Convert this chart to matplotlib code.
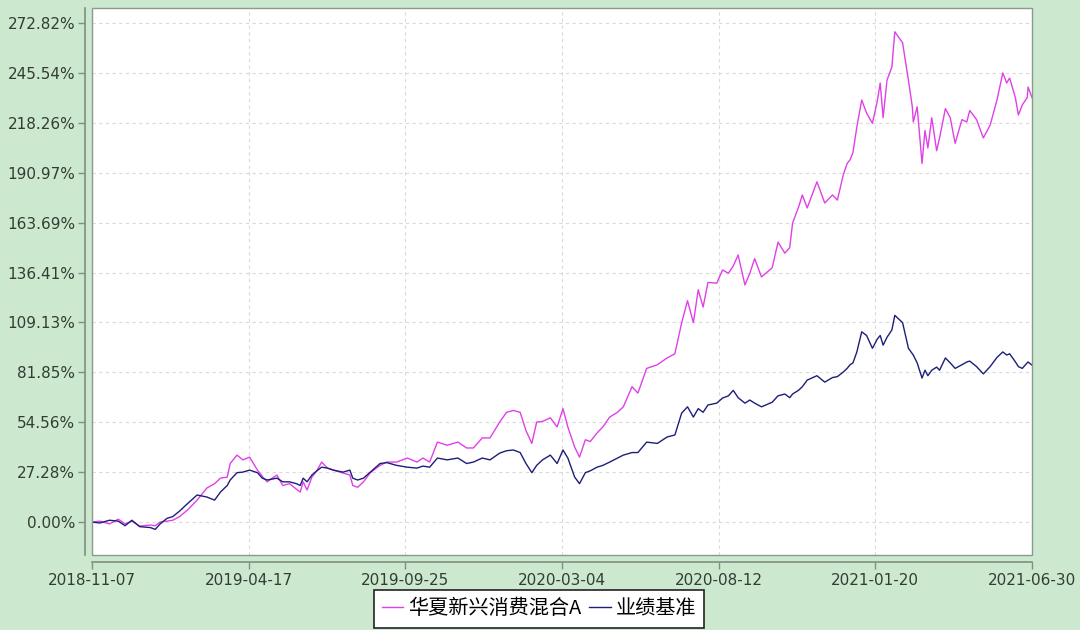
import matplotlib
matplotlib.use("Agg")
import matplotlib.pyplot as plt
import matplotlib.dates as mdates
from matplotlib.patches import Rectangle
import pandas as pd

dates = [
    "2018-11-07", "2018-11-15", "2018-11-25", "2018-12-04", "2018-12-11", "2018-12-18", "2018-12-26",
    "2019-01-06", "2019-01-11", "2019-01-16", "2019-01-23", "2019-01-29", "2019-02-05", "2019-02-13",
    "2019-02-23", "2019-03-05", "2019-03-13", "2019-03-19", "2019-03-26", "2019-03-29", "2019-04-05",
    "2019-04-11", "2019-04-18", "2019-04-26", "2019-05-01", "2019-05-06", "2019-05-16", "2019-05-22",
    "2019-05-29", "2019-06-05", "2019-06-09", "2019-06-12", "2019-06-16", "2019-06-21", "2019-06-26",
    "2019-07-01", "2019-07-07", "2019-07-13", "2019-07-23", "2019-07-30", "2019-08-02", "2019-08-07",
    "2019-08-13", "2019-08-20", "2019-08-30", "2019-09-06", "2019-09-16", "2019-09-27", "2019-10-07",
    "2019-10-13", "2019-10-20", "2019-10-28", "2019-11-07", "2019-11-18", "2019-11-27", "2019-12-04",
    "2019-12-13", "2019-12-21", "2019-12-31", "2020-01-07", "2020-01-14", "2020-01-21", "2020-01-27",
    "2020-02-02", "2020-02-07", "2020-02-13", "2020-02-21", "2020-02-28", "2020-03-05", "2020-03-10",
    "2020-03-17", "2020-03-22", "2020-03-28", "2020-04-02", "2020-04-09", "2020-04-15", "2020-04-22",
    "2020-04-30", "2020-05-06", "2020-05-15", "2020-05-21", "2020-05-30", "2020-06-10", "2020-06-20",
    "2020-06-28", "2020-07-05", "2020-07-11", "2020-07-17", "2020-07-22", "2020-07-27", "2020-08-01",
    "2020-08-10", "2020-08-16", "2020-08-22", "2020-08-27", "2020-09-01", "2020-09-08", "2020-09-13",
    "2020-09-18", "2020-09-25", "2020-10-06", "2020-10-12", "2020-10-19", "2020-10-24", "2020-10-27",
    "2020-11-02", "2020-11-06", "2020-11-11", "2020-11-21", "2020-11-29", "2020-12-07", "2020-12-12",
    "2020-12-18", "2020-12-22", "2020-12-25", "2020-12-28", "2021-01-01", "2021-01-06", "2021-01-11",
    "2021-01-17", "2021-01-22", "2021-01-25", "2021-01-28", "2021-02-01", "2021-02-06", "2021-02-09",
    "2021-02-17", "2021-02-23", "2021-02-27", "2021-02-28", "2021-03-04", "2021-03-09", "2021-03-12",
    "2021-03-15", "2021-03-19", "2021-03-24", "2021-03-27", "2021-04-02", "2021-04-07", "2021-04-12",
    "2021-04-19", "2021-04-24", "2021-04-27", "2021-05-04", "2021-05-11", "2021-05-18", "2021-05-25",
    "2021-05-31", "2021-06-04", "2021-06-07", "2021-06-13", "2021-06-16", "2021-06-20", "2021-06-25",
    "2021-06-26", "2021-06-30",
]

fund = [
    0.0, 0.5, -1.0, 1.6, -1.0, 0.5, -2.2,
    -1.6, -2.0, 0.0, 0.5, 1.0, 3.0, 6.5,
    12.0, 18.6, 21.0, 24.0, 24.6, 32.0, 36.6,
    34.0, 35.5, 28.4, 25.0, 22.0, 25.7, 20.0,
    21.0, 18.0, 16.4, 22.0, 17.5, 24.6, 28.0,
    32.8, 29.5, 28.4, 26.8, 25.7, 20.0, 19.0,
    22.0, 27.0, 31.0, 32.8, 32.8, 35.0, 32.8,
    35.0, 32.8, 43.7, 42.0, 43.7, 40.5, 40.5,
    46.0, 46.0, 54.7, 60.0, 61.0, 60.0, 50.0,
    43.0, 54.7, 55.0, 57.0, 52.0, 62.0, 52.0,
    41.0, 35.5, 45.0, 44.0, 48.7, 52.0, 57.4,
    60.0, 63.0, 74.0, 70.5, 84.0, 86.0, 89.7,
    92.0, 109.0, 121.0, 109.0, 127.0, 117.5, 131.0,
    130.6, 137.8, 136.0, 140.0, 146.0, 129.6, 136.0,
    144.0, 134.0, 139.0, 153.0, 147.0, 150.0, 163.5,
    172.0, 178.8, 171.7, 186.0, 174.4, 178.8, 176.0,
    189.7, 196.0, 198.0, 202.0, 216.0, 230.7, 223.6,
    218.0, 230.0, 240.0, 221.0, 241.6, 248.7, 268.0,
    262.0, 241.6, 227.0, 218.7, 227.0, 196.0, 214.0,
    204.5, 221.0, 203.0, 210.0, 226.0, 221.0, 207.0,
    220.0, 218.7, 225.0, 220.0, 210.0, 217.0, 230.7,
    245.5, 240.0, 242.7, 231.8, 222.5, 228.0, 232.0,
    237.8, 232.0,
]

benchmark = [
    0.0, -0.5, 1.0, 0.5, -2.0, 1.0, -2.5,
    -3.0, -4.0, -1.0, 2.0, 3.0, 6.0, 10.0,
    14.8, 13.7, 12.0, 16.4, 20.0, 23.0, 27.0,
    27.3, 28.4, 27.0, 24.0, 23.0, 24.0, 22.0,
    22.0, 21.0, 20.0, 24.0, 22.0, 25.7, 28.0,
    30.0, 29.5, 28.4, 27.3, 28.4, 24.0, 23.0,
    24.0, 27.3, 32.0, 32.5, 31.0, 30.0, 29.5,
    30.6, 30.0, 35.0, 34.0, 35.0, 32.0, 32.8,
    35.0, 34.0, 37.7, 39.0, 39.4, 38.0, 32.0,
    27.0, 31.0, 34.0, 36.6, 32.0, 39.4, 35.0,
    24.6, 21.0, 27.0, 28.0, 30.0, 31.0, 32.8,
    35.0, 36.6, 38.0, 38.0, 43.7, 43.0, 46.5,
    47.6, 59.6, 63.0, 57.4, 62.0, 60.0, 64.0,
    65.0, 67.8, 69.0, 72.0, 68.0, 65.0, 66.7,
    65.0, 63.0, 65.5, 69.0, 70.0, 68.0, 70.0,
    72.0, 74.0, 77.6, 80.0, 76.5, 79.0, 79.5,
    82.0, 84.0, 86.0, 87.0, 93.0, 104.0, 102.0,
    95.0, 100.0, 102.0, 96.7, 101.0, 105.0, 113.0,
    109.0, 95.0, 92.0, 91.3, 87.0, 78.7, 83.0,
    80.0, 83.0, 84.7, 83.0, 89.7, 87.0, 84.0,
    86.0, 87.5, 88.0, 85.0, 81.0, 85.0, 90.0,
    93.0, 91.3, 92.0, 87.5, 85.0, 84.0, 87.0,
    87.5, 85.8,
]

series_names = ["华夏新兴消费混合A", "业绩基准"]
ytick_values = [0.0, 27.282, 54.564, 81.846, 109.128, 136.41, 163.692, 190.974, 218.256, 245.538, 272.82]
ytick_labels = ["0.00%", "27.28%", "54.56%", "81.85%", "109.13%", "136.41%", "163.69%",
                "190.97%", "218.26%", "245.54%", "272.82%"]
xtick_labels = ["2018-11-07", "2019-04-17", "2019-09-25", "2020-03-04", "2020-08-12", "2021-01-20", "2021-06-30"]

plt.rcParams['font.family'] = ['DejaVu Sans', 'Noto Sans CJK SC']

BG = '#CCE8CF'
AX_COL = '#7F8F80'
TXT = '#333D33'

fig = plt.figure(figsize=(10.8, 6.3), dpi=100, facecolor=BG)
ax = fig.add_axes([92 / 1080, 1 - 555 / 630, 940 / 1080, 547 / 630])
ax.set_facecolor('white')

d = pd.to_datetime(dates)
ax.plot(d, fund, color='#E040E8', lw=1.0, label=series_names[0], zorder=3)
ax.plot(d, benchmark, color='#1E1E78', lw=1.0, label=series_names[1], zorder=4)

xt = pd.to_datetime(xtick_labels)
ax.set_xlim(xt[0], xt[-1])
ax.set_ylim(-18.0, 281.0)
ax.set_xticks(xt)
ax.set_xticklabels(xtick_labels)
ax.set_yticks(ytick_values)
ax.set_yticklabels(ytick_labels)

ax.grid(True, color='#DADADA', linestyle=(0, (3, 3)), linewidth=0.8, zorder=0)

for s in ['top', 'right']:
    ax.spines[s].set_visible(False)
for s in ['left', 'bottom']:
    ax.spines[s].set_position(('outward', 5))
    ax.spines[s].set_color(AX_COL)
    ax.spines[s].set_linewidth(1.2)

frame = Rectangle((0, 0), 1, 1, transform=ax.transAxes, fill=False,
                  edgecolor='#8C9A8C', linewidth=1.0, zorder=5, clip_on=False)
ax.add_patch(frame)

ax.tick_params(axis='both', colors=AX_COL, labelcolor=TXT, labelsize=11,
               direction='out', length=5, width=1)
ax.tick_params(axis='x', pad=3)
ax.tick_params(axis='y', pad=2)

leg = fig.legend(loc='center', bbox_to_anchor=(539 / 1080, 1 - 609 / 630),
                 ncol=2, frameon=True, fancybox=False, edgecolor='#222222',
                 facecolor='white', framealpha=1.0,
                 prop={'family': ['Noto Sans CJK SC', 'DejaVu Sans'], 'size': 14.5},
                 handlelength=1.05, handletextpad=0.25, columnspacing=0.4,
                 borderpad=0.4, borderaxespad=0)
leg.get_frame().set_linewidth(1.2)

fig.savefig('out.png', dpi=100, facecolor=BG)
